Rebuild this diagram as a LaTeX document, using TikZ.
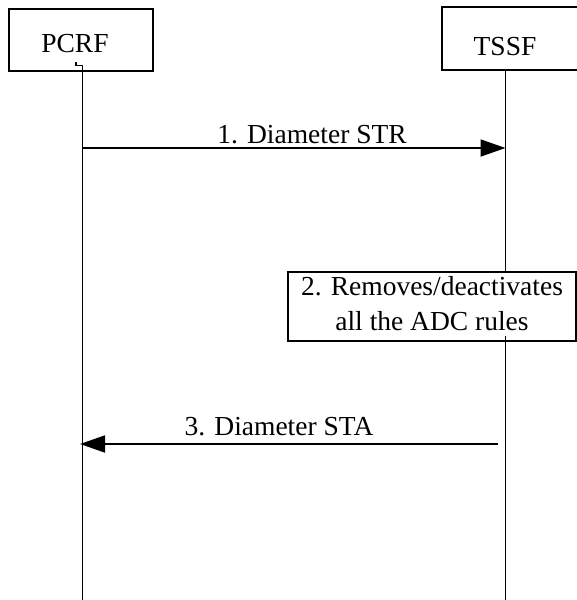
\documentclass[tikz,border=0pt]{standalone}
\usepackage{fontspec}
\setmainfont{Liberation Serif}
\usetikzlibrary{arrows.meta}
\tikzset{
  ent/.style={draw, line width=1.8pt, inner sep=0pt},
  life/.style={line width=1.8pt},
  msg/.style={line width=1.8pt, -{Triangle[length=25pt,width=17pt]}},
  lbl/.style={anchor=base, inner sep=0pt, font=\fontsize{27.5}{35}\selectfont},
}
\begin{document}
\begin{tikzpicture}[x=1pt,y=-1pt]
\useasboundingbox (0,0) rectangle (576,600);
% entities
\node[ent, minimum width=144pt, minimum height=62pt] (pcrf) at (81,40) {};
\node[lbl] (pcrfT) at (75,52) {PCRF};
\node[ent, minimum width=140pt, minimum height=63pt] (tssf) at (512,38.5) {};
\node[lbl] (tssfT) at (505,55) {TSSF};
% lifeline coordinates
\coordinate (pTop) at (76,62);
\coordinate (pK) at (76,65.5);
\coordinate (pK2) at (82.5,65.5);
\coordinate (pBot) at (82.5,600);
\coordinate (tTop) at (505.5,70);
\coordinate (tBot) at (505.5,600);
\coordinate (p1) at (82.5,148);
\coordinate (t1) at (505.5,148);
\coordinate (t3) at (498,444);
\coordinate (p3) at (80,444);
% lifelines
\draw[life] (pTop) -- (pK) -- (pK2) -- (pBot);
\draw[life] (tTop) -- (tBot);
% message 1
\draw[msg] (p1) -- (t1);
\node[lbl] (m1) at (312,143) {1. Diameter STR};
% step 2
\node[ent, fill=white, minimum width=288pt, minimum height=69pt] (s2) at (432,306.5) {};
\coordinate (sIn) at (505.5,336);
\draw[life] (sIn) -- (s2.south -| sIn);
\node[lbl] (s2a) at (432,295) {2. Removes/deactivates};
\node[lbl] (s2b) at (432,330) {all the ADC rules};
% message 3
\draw[msg] (t3) -- (p3);
\node[lbl] (m3) at (279,435) {3. Diameter STA};
\end{tikzpicture}
\end{document}
